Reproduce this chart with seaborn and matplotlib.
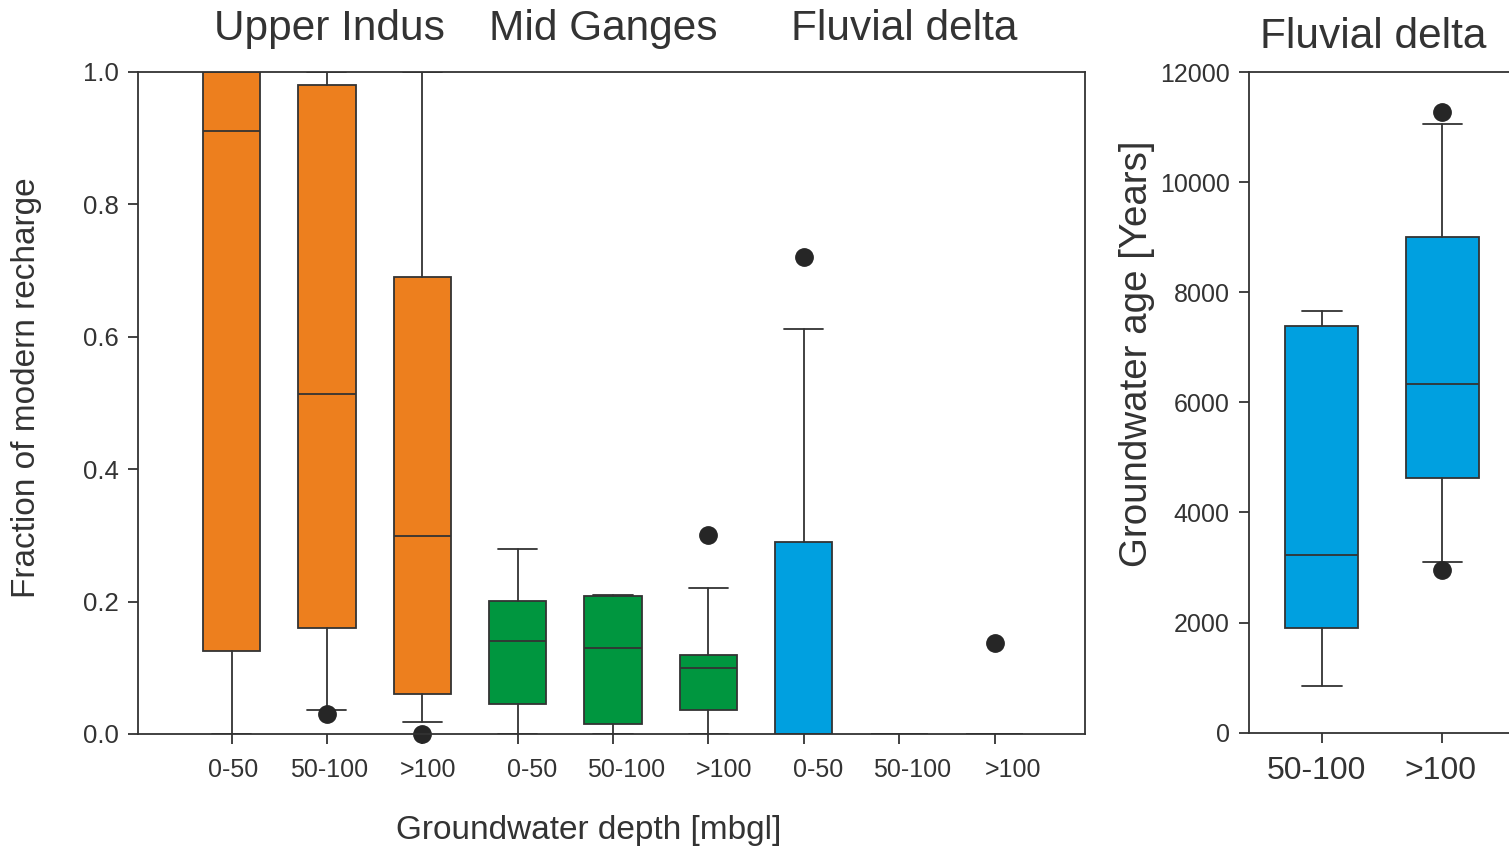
import matplotlib
matplotlib.use("Agg")
import matplotlib.pyplot as plt
import matplotlib.transforms as mtransforms
import seaborn as sns

# Left panel: fraction of modern recharge, per region and depth class
depth_labels = ["0-50", "50-100", ">100"] * 3
box_region = ["Upper Indus"] * 3 + ["Mid Ganges"] * 3 + ["Fluvial delta"] * 3
frac_whislo = [0.0, 0.036, 0.018, 0.0, 0.0, 0.0, 0.0, 0.0, 0.0]
frac_q1 = [0.125, 0.160, 0.060, 0.045, 0.015, 0.036, 0.0, 0.0, 0.0]
frac_med = [0.911, 0.514, 0.299, 0.140, 0.130, 0.100, 0.0, 0.0, 0.0]
frac_q3 = [1.0, 0.980, 0.690, 0.201, 0.208, 0.119, 0.290, 0.0, 0.0]
frac_whishi = [1.0, 1.0, 1.0, 0.279, 0.210, 0.220, 0.612, 0.0, 0.0]
frac_fliers = [[], [0.030], [0.0], [], [], [0.300], [0.720], [], [0.137]]

# Right panel: groundwater age in the fluvial delta
age_labels = ["50-100", ">100"]
age_whislo = [839, 3100]
age_q1 = [1906, 4621]
age_med = [3221, 6336]
age_q3 = [7391, 9003]
age_whishi = [7664, 11070]
age_fliers = [[], [11276, 2948]]

region_colors = {"Upper Indus": "#ED7F1E", "Mid Ganges": "#00963F",
                 "Fluvial delta": "#00A0E0"}

sns.set_style("ticks")
plt.rcParams["font.family"] = ["Liberation Sans", "DejaVu Sans"]
ink = "#333333"


def make_stats(labels, lo, q1, med, q3, hi, fliers):
    return [dict(label=l, whislo=a, q1=b, med=c, q3=d, whishi=e, fliers=f)
            for l, a, b, c, d, e, f in zip(labels, lo, q1, med, q3, hi, fliers)]


def draw_boxes(ax, stats, colors, capw):
    lp = dict(color=ink, linewidth=1.3)
    out = ax.bxp(stats, widths=0.6, capwidths=capw, patch_artist=True,
                 boxprops=dict(edgecolor=ink, linewidth=1.3),
                 medianprops=lp, whiskerprops=lp, capprops=lp,
                 flierprops=dict(marker="o", markerfacecolor="#262626",
                                 markeredgecolor="#262626", markersize=12.5))
    for patch, c in zip(out["boxes"], colors):
        patch.set_facecolor(c)
    for f in out["fliers"]:
        f.set_clip_on(False)
    return out


def style_axes(ax, xsize, ysize):
    for s in ax.spines.values():
        s.set_color(ink)
        s.set_linewidth(1.3)
    ax.tick_params(direction="out", length=7, width=1.3, color=ink,
                   labelcolor=ink)
    ax.tick_params(axis="x", labelsize=xsize, pad=10)
    ax.tick_params(axis="y", labelsize=ysize, pad=7)


def shift_xlabels(fig, ax, shifts_px):
    # the original figure has its depth labels slightly off the ticks
    for lab, dx in zip(ax.get_xticklabels(), shifts_px):
        off = mtransforms.ScaledTranslation(dx / fig.dpi, 0, fig.dpi_scale_trans)
        lab.set_transform(lab.get_transform() + off)


fig = plt.figure(figsize=(15.09, 8.51), dpi=100)

# left panel
ax1 = fig.add_axes([0.0915, 0.1375, 0.6276, 0.7779])
stats1 = make_stats(depth_labels, frac_whislo, frac_q1, frac_med, frac_q3,
                    frac_whishi, frac_fliers)
draw_boxes(ax1, stats1, [region_colors[r] for r in box_region], 0.41)
ax1.set_xlim(0.02, 9.95)
ax1.set_ylim(0, 1.0)
ax1.set_yticks([0.0, 0.2, 0.4, 0.6, 0.8, 1.0])
ax1.set_yticklabels(["0.0", "0.2", "0.4", "0.6", "0.8", "1.0"])
style_axes(ax1, 18, 18.5)
shift_xlabels(fig, ax1, [2, 2.5, 6, 14, 13, 16, 14, 13, 18])

for name, xpos in [("Upper Indus", 2.03), ("Mid Ganges", 4.9),
                   ("Fluvial delta", 8.05)]:
    ax1.text(xpos, 1.065, name, transform=ax1.get_xaxis_transform(),
             ha="center", va="center", fontsize=30.5, color=ink)

# right panel
ax2 = fig.add_axes([0.8277, 0.1392, 0.1763, 0.7758])
stats2 = make_stats(age_labels, age_whislo, age_q1, age_med, age_q3,
                    age_whishi, age_fliers)
draw_boxes(ax2, stats2, [region_colors["Fluvial delta"]] * 2, 0.33)
ax2.set_xlim(0.4, 2.6)
ax2.set_ylim(0, 12000)
ax2.set_yticks(range(0, 12001, 2000))
style_axes(ax2, 23, 18)
shift_xlabels(fig, ax2, [-5, -2])
ax2.text(1.43, 1.053, "Fluvial delta", transform=ax2.get_xaxis_transform(),
         ha="center", va="center", fontsize=30.5, color=ink)

fig.text(27 / 1509, 1 - 388 / 851, "Fraction of modern recharge",
         rotation=90, ha="center", va="center", fontsize=24, color=ink)
fig.text(1137 / 1509, 1 - 354 / 851, "Groundwater age [Years]",
         rotation=90, ha="center", va="center", fontsize=27.7, color=ink)
fig.text(589 / 1509, 1 - 831 / 851, "Groundwater depth [mbgl]",
         ha="center", va="center", fontsize=24, color=ink)

fig.savefig("out.png", dpi=100)
